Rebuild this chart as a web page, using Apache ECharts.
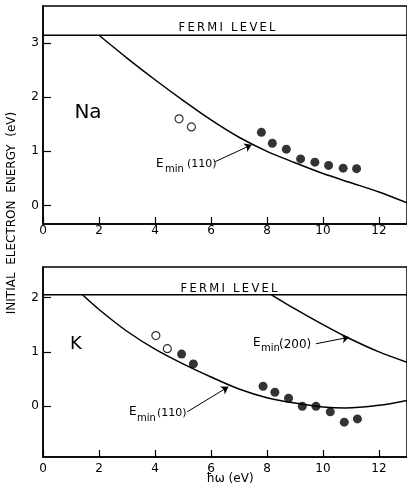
<!DOCTYPE html>
<html><head><meta charset="utf-8">
<script src="https://cdn.jsdelivr.net/npm/echarts@6/dist/echarts.min.js"></script>
<style>html,body{margin:0;padding:0;background:#fff}#c{width:407px;height:498px}</style>
</head><body><div id="c"></div>
<script>
// ---- tick labels ----
const xTicks = [0, 2, 4, 6, 8, 10, 12];
const naYTicks = [0, 1, 2, 3];
const kYTicks = [0, 1, 2];

// ---- Na panel ----
const naFermi = 3.14;
const naCurveX = [2.0, 3.0, 4.0, 5.0, 6.0, 7.0, 8.0, 9.0, 10.0, 11.0, 12.0, 13.0];
const naCurveY = [3.14, 2.72, 2.32, 1.94, 1.58, 1.26, 1.00, 0.79, 0.59, 0.42, 0.25, 0.05];
const naOpenX = [4.86, 5.30];
const naOpenY = [1.60, 1.45];
const naFilledX = [7.80, 8.19, 8.69, 9.20, 9.71, 10.20, 10.72, 11.20];
const naFilledY = [1.35, 1.15, 1.04, 0.86, 0.80, 0.74, 0.69, 0.68];

// ---- K panel ----
const kFermi = 2.05;
const k110X = [1.41, 2.0, 3.0, 4.0, 5.0, 6.0, 7.0, 8.0, 9.0, 10.0, 10.8, 12.0, 13.0];
const k110Y = [2.05, 1.78, 1.38, 1.05, 0.78, 0.54, 0.32, 0.16, 0.06, -0.01, -0.03, 0.02, 0.11];
const k200X = [8.16, 9.0, 10.0, 10.87, 12.0, 13.0];
const k200Y = [2.05, 1.79, 1.50, 1.265, 1.00, 0.81];
const kOpenX = [4.03, 4.44];
const kOpenY = [1.30, 1.06];
const kFilledX = [4.95, 5.37, 7.86, 8.28, 8.77, 9.26, 9.75, 10.26, 10.76, 11.23];
const kFilledY = [0.96, 0.78, 0.37, 0.26, 0.15, 0.00, 0.00, -0.10, -0.29, -0.23];

const XMAX = 13;
const zip = (a, b) => a.map((v, i) => [v, b[i]]);
const FONT = 'DejaVu Sans';
const INK = '#000';

function xAxisDef(gi, margin) {
  return {
    type: 'value', gridIndex: gi, min: 0, max: XMAX,
    axisLine: { show: true, onZero: false, lineStyle: { color: INK, width: 1.5 } },
    axisTick: { show: true, inside: true, length: 7, customValues: xTicks, lineStyle: { color: INK, width: 1.2 } },
    axisLabel: { show: true, customValues: xTicks, margin: margin, color: INK, fontFamily: FONT, fontSize: 12 },
    splitLine: { show: false }
  };
}
function yAxisDef(gi, min, max, ticks) {
  return {
    type: 'value', gridIndex: gi, min: min, max: max,
    axisLine: { show: true, onZero: false, lineStyle: { color: INK, width: 1.5 } },
    axisTick: { show: true, inside: true, length: 8, customValues: ticks, lineStyle: { color: INK, width: 1.2 } },
    axisLabel: { show: true, customValues: ticks, margin: 4, color: INK, fontFamily: FONT, fontSize: 12 },
    splitLine: { show: false }
  };
}
const lineStyle = { color: INK, width: 1.5 };
function curve(gi, data, extra) {
  return Object.assign({
    type: 'line', xAxisIndex: gi, yAxisIndex: gi, data: data, smooth: 0.3,
    symbol: 'none', lineStyle: lineStyle, silent: true, z: 3
  }, extra || {});
}
function arrow(from, to, curveness) {
  return {
    silent: true, animation: false, symbol: ['none', 'arrow'], symbolSize: 7,
    label: { show: false },
    itemStyle: { color: INK },
    lineStyle: { color: INK, width: 1, type: 'solid', curveness: curveness },
    data: [[{ coord: from }, { coord: to }]]
  };
}
function openPts(gi, data) {
  return { type: 'scatter', xAxisIndex: gi, yAxisIndex: gi, data: data, symbol: 'circle', symbolSize: 8,
    itemStyle: { color: '#fff', borderColor: INK, borderWidth: 1.2 }, z: 4 };
}
function filledPts(gi, data) {
  return { type: 'scatter', xAxisIndex: gi, yAxisIndex: gi, data: data, symbol: 'circle', symbolSize: 9,
    itemStyle: { color: INK }, z: 4 };
}
function txt(x, y, s, size, opts) {
  return Object.assign({ type: 'text', x: x, y: y, silent: true,
    style: { text: s, fill: INK, font: size + 'px "' + FONT + '"', textAlign: 'center', textVerticalAlign: 'middle' } }, opts || {});
}
function txtL(x, y, s, size) {
  return { type: 'text', x: x, y: y, silent: true,
    style: { text: s, fill: INK, font: size + 'px "' + FONT + '"', textAlign: 'left', textVerticalAlign: 'middle' } };
}

const chart = echarts.init(document.getElementById('c'), null, { renderer: 'canvas' });
chart.setOption({
  animation: false,
  backgroundColor: '#fff',
  grid: [
    { left: 43, top: 6, width: 367, height: 218, show: true, borderColor: INK, borderWidth: 1.5, backgroundColor: 'transparent' },
    { left: 43, top: 267, width: 367, height: 190, show: true, borderColor: INK, borderWidth: 1.5, backgroundColor: 'transparent' }
  ],
  xAxis: [xAxisDef(0, 1), xAxisDef(1, 6)],
  yAxis: [yAxisDef(0, -0.34, 3.68, naYTicks), yAxisDef(1, -0.93, 2.56, kYTicks)],
  series: [
    curve(0, [[0, naFermi], [XMAX, naFermi]]),
    curve(0, zip(naCurveX, naCurveY), { markLine: arrow([6.15, 0.81], [7.45, 1.12], 0) }),
    openPts(0, zip(naOpenX, naOpenY)),
    filledPts(0, zip(naFilledX, naFilledY)),
    curve(1, [[0, kFermi], [XMAX, kFermi]]),
    curve(1, zip(k110X, k110Y), { markLine: arrow([5.15, -0.10], [6.62, 0.36], -0.3) }),
    curve(1, zip(k200X, k200Y), { markLine: arrow([9.75, 1.15], [10.93, 1.27], 0) }),
    openPts(1, zip(kOpenX, kOpenY)),
    filledPts(1, zip(kFilledX, kFilledY))
  ],
  graphic: [
    txt(12, 213, 'INITIAL  ELECTRON  ENERGY  (eV)', 12, { rotation: Math.PI / 2 }),
    txt(227, 28, 'F\u2009E\u2009R\u2009M\u2009I\u2009 \u2009L\u2009E\u2009V\u2009E\u2009L', 11.5),
    txt(229, 289, 'F\u2009E\u2009R\u2009M\u2009I\u2009 \u2009L\u2009E\u2009V\u2009E\u2009L', 11.5),
    txt(88, 113, 'Na', 20),
    txt(76, 344, 'K', 18),
    txt(230, 479, 'ħω (eV)', 12),
    txtL(156, 164, 'E', 12), txtL(165, 169.5, 'min', 10), txtL(187, 164, '(110)', 11),
    txtL(129, 412, 'E', 12), txtL(137, 418, 'min', 10), txtL(157, 413, '(110)', 11),
    txtL(253, 343, 'E', 12), txtL(261, 348.5, 'min', 10), txtL(279, 345, '(200)', 12)
  ]
});
</script>
</body></html>
